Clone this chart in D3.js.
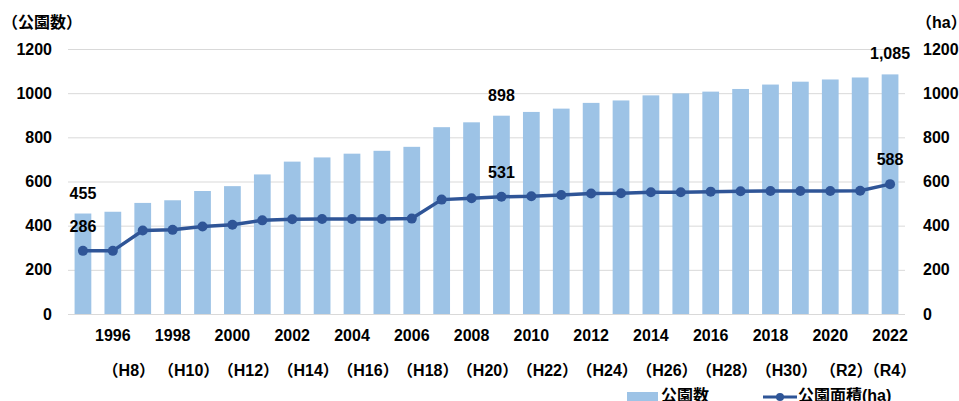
<!DOCTYPE html>
<html>
<head>
<meta charset="utf-8">
<script src="https://cdn.jsdelivr.net/npm/d3@7"></script>
<style>
  body { margin: 0; background: #fff; }
  svg text { font-family: "Liberation Sans", "Noto Sans CJK JP", sans-serif; font-weight: bold; fill: #000; }
  .grid line { stroke: #d9d9d9; stroke-width: 1; }
  .grid .domain { display: none; }
  .axis .domain { display: none; }
  .axis line { display: none; }
</style>
</head>
<body>
<div id="chart"></div>
<script>
'use strict';

// years 1995 - 2022
var years = [1995, 1996, 1997, 1998, 1999, 2000, 2001, 2002, 2003, 2004, 2005, 2006, 2007, 2008,
             2009, 2010, 2011, 2012, 2013, 2014, 2015, 2016, 2017, 2018, 2019, 2020, 2021, 2022];

// 公園数 (bars, left axis)
var parkCount = [455, 463, 503, 515, 557, 579, 632, 690, 709, 726, 739, 757, 846, 868,
                 898, 915, 930, 956, 967, 990, 999, 1007, 1019, 1039, 1052, 1062, 1071, 1085];

// 公園面積 ha (line, right axis)
var parkArea = [286, 286, 378, 381, 396, 404, 424, 429, 430, 430, 430, 432, 518, 524,
                531, 533, 539, 546, 547, 551, 551, 554, 556, 557, 557, 557, 558, 588];

var yearTicks = [1996, 1998, 2000, 2002, 2004, 2006, 2008, 2010, 2012, 2014, 2016, 2018, 2020, 2022];
var eraLabels = ['（H8）', '（H10）', '（H12）', '（H14）', '（H16）', '（H18）', '（H20）',
                 '（H22）', '（H24）', '（H26）', '（H28）', '（H30）', '（R2）', '（R4）'];

var valueTicks = [0, 200, 400, 600, 800, 1000, 1200];

// which points get a value label
var barLabelYears = [1995, 2009, 2022];
var lineLabelYears = [1995, 2009, 2022];

var width = 959, height = 401;
var plot = { left: 68, right: 905, top: 49, bottom: 314 };

var svg = d3.select('#chart').append('svg')
    .attr('width', width)
    .attr('height', height);

var x = d3.scaleBand()
    .domain(years)
    .range([plot.left, plot.right])
    .paddingInner(0.44)
    .paddingOuter(0.22);

var yLeft = d3.scaleLinear().domain([0, 1200]).range([plot.bottom, plot.top]);
var yRight = d3.scaleLinear().domain([0, 1200]).range([plot.bottom, plot.top]);

var tickFmt = d3.format('d');

// gridlines
svg.append('g')
    .attr('class', 'grid')
    .attr('transform', 'translate(' + plot.left + ',0)')
    .call(d3.axisLeft(yLeft).tickValues(valueTicks).tickSize(-(plot.right - plot.left)).tickFormat(''));

// left axis
svg.append('g')
    .attr('class', 'axis')
    .attr('transform', 'translate(52,0)')
    .call(d3.axisLeft(yLeft).tickValues(valueTicks).tickFormat(tickFmt).tickSize(0).tickPadding(0))
    .selectAll('text')
    .style('font-size', '16px');

// right axis
svg.append('g')
    .attr('class', 'axis')
    .attr('transform', 'translate(923,0)')
    .call(d3.axisRight(yRight).tickValues(valueTicks).tickFormat(tickFmt).tickSize(0).tickPadding(0))
    .selectAll('text')
    .style('font-size', '16px');

// axis titles
svg.append('text')
    .attr('x', 2).attr('y', 28)
    .style('font-size', '16px')
    .text('（公園数）');

svg.append('text')
    .attr('x', 916).attr('y', 28)
    .style('font-size', '16px')
    .text('（ha）');

// bars
svg.append('g').selectAll('rect')
    .data(years)
    .join('rect')
    .attr('x', function (d) { return x(d); })
    .attr('y', function (d, i) { return yLeft(parkCount[i]); })
    .attr('width', x.bandwidth())
    .attr('height', function (d, i) { return plot.bottom - yLeft(parkCount[i]); })
    .attr('fill', '#9dc3e6');

// line
var cx = function (d) { return x(d) + x.bandwidth() / 2; };

var line = d3.line()
    .x(function (d) { return cx(d); })
    .y(function (d, i) { return yRight(parkArea[i]); });

svg.append('path')
    .datum(years)
    .attr('d', line)
    .attr('fill', 'none')
    .attr('stroke', '#2f5597')
    .attr('stroke-width', 3.5);

svg.append('g').selectAll('circle')
    .data(years)
    .join('circle')
    .attr('cx', function (d) { return cx(d); })
    .attr('cy', function (d, i) { return yRight(parkArea[i]); })
    .attr('r', 5)
    .attr('fill', '#2f5597');

// value labels
var fmt = d3.format(',');

svg.append('g').selectAll('text')
    .data(barLabelYears)
    .join('text')
    .attr('x', function (d) { return cx(d); })
    .attr('y', function (d) { return yLeft(parkCount[years.indexOf(d)]) - 15; })
    .attr('text-anchor', 'middle')
    .style('font-size', '16px')
    .text(function (d) { return fmt(parkCount[years.indexOf(d)]); });

svg.append('g').selectAll('text')
    .data(lineLabelYears)
    .join('text')
    .attr('x', function (d) { return cx(d); })
    .attr('y', function (d) { return yRight(parkArea[years.indexOf(d)]) - 19; })
    .attr('text-anchor', 'middle')
    .style('font-size', '16px')
    .text(function (d) { return fmt(parkArea[years.indexOf(d)]); });

// x axis: years
svg.append('g')
    .attr('class', 'axis')
    .attr('transform', 'translate(0,' + plot.bottom + ')')
    .call(d3.axisBottom(x).tickValues(yearTicks).tickSize(0).tickPadding(16))
    .selectAll('text')
    .style('font-size', '16px');

// x axis: era names
svg.append('g').selectAll('text')
    .data(yearTicks)
    .join('text')
    .attr('x', function (d, i) { return cx(d) + (i === yearTicks.length - 1 ? 0 : 16); })
    .attr('y', 376)
    .attr('text-anchor', 'middle')
    .style('font-size', '16px')
    .text(function (d, i) { return eraLabels[i]; });

// legend
var legend = svg.append('g').attr('transform', 'translate(0,393)');

legend.append('rect')
    .attr('x', 627).attr('y', -1)
    .attr('width', 31).attr('height', 10)
    .attr('fill', '#9dc3e6');

legend.append('text')
    .attr('x', 661).attr('y', 8)
    .style('font-size', '16px')
    .text('公園数');

legend.append('line')
    .attr('x1', 763).attr('x2', 797)
    .attr('y1', 4).attr('y2', 4)
    .attr('stroke', '#2f5597')
    .attr('stroke-width', 3);

legend.append('circle')
    .attr('cx', 780).attr('cy', 4)
    .attr('r', 4)
    .attr('fill', '#2f5597');

legend.append('text')
    .attr('x', 798).attr('y', 8)
    .style('font-size', '16px')
    .text('公園面積(ha)');
</script>
</body>
</html>
